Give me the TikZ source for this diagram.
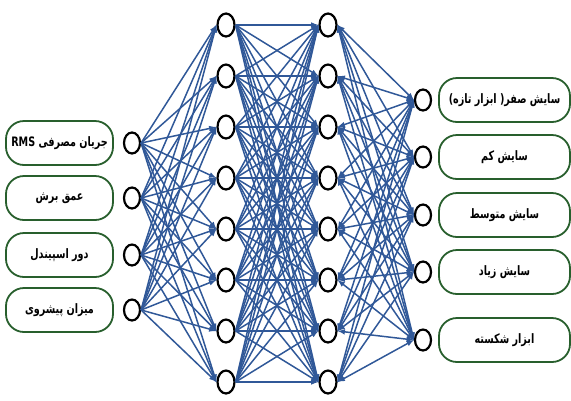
\documentclass[tikz,border=0pt]{standalone}
\usepackage{fontspec}
\usepackage{tikz}
\usetikzlibrary{positioning, shapes.geometric, arrows}
\newfontfamily\farsi[Script=Arabic, FakeStretch=0.74]{DejaVu Sans}
\TeXXeTstate=1
\definecolor{linkblue}{RGB}{48,88,152}
\definecolor{boxgreen}{RGB}{40,95,45}
\newcommand{\fa}[1]{\beginR #1\endR}
\tikzset{
    neuron/.style={draw=black, ellipse, line width=2.2pt, fill=white, minimum width=16pt, minimum height=21pt, inner sep=0pt},
    feature/.style={draw=boxgreen, rectangle, rounded corners=18pt, line width=1.8pt, align=center, minimum height=44pt, inner xsep=2pt, font=\farsi\bfseries\fontsize{13}{15}\selectfont},
    link/.style={draw=linkblue, line width=1.5pt},
}

\begin{document}
\begin{tikzpicture}[x=1pt,y=-1pt,>=latex]
    \useasboundingbox (0,0) rectangle (571,400);

    % input layer
    \node[neuron] (a1) at (132,143) {};
    \node[neuron] (a2) at (132,198) {};
    \node[neuron] (a3) at (132,255) {};
    \node[neuron] (a4) at (132,310) {};
    \node[feature, minimum width=107pt] (f1) [left=9pt of a1] {\fa{جریان مصرفی \beginL RMS\endL}};
    \node[feature, minimum width=107pt] (f2) [left=9pt of a2] {\fa{عمق برش}};
    \node[feature, minimum width=107pt] (f3) [left=9pt of a3] {\fa{دور اسپیندل}};
    \node[feature, minimum width=107pt] (f4) [left=9pt of a4] {\fa{میزان پیشروی}};

    % hidden layers
    \foreach \n in {1,...,8} {
        \node[neuron, minimum width=17pt, minimum height=23pt] (b\n) at (226,{25+51*(\n-1)}) {};
        \node[neuron, minimum width=17pt, minimum height=23pt] (c\n) at (328,{25+51*(\n-1)}) {};
    }

    % output layer
    \node[neuron] (d1) at (423,100) {};
    \node[neuron] (d2) at (423,157) {};
    \node[neuron] (d3) at (423,215) {};
    \node[neuron] (d4) at (423,272) {};
    \node[neuron] (d5) at (423,340) {};
    \node[feature, minimum width=131pt] (o1) [right=6pt of d1] {\fa{سایش صفر( ابزار تازه)}};
    \node[feature, minimum width=131pt] (o2) [right=6pt of d2] {\fa{سایش کم}};
    \node[feature, minimum width=131pt] (o3) [right=6pt of d3] {\fa{سایش متوسط}};
    \node[feature, minimum width=131pt] (o4) [right=6pt of d4] {\fa{سایش زیاد}};
    \node[feature, minimum width=131pt] (o5) [right=6pt of d5] {\fa{ابزار شکسته}};

    % links
    \foreach \i in {1,...,4}
        \foreach \j in {1,...,8}
            \draw[link, ->] (a\i.east) -- (b\j.west);
    \foreach \i in {1,...,8}
        \foreach \j in {1,...,8}
            \draw[link, ->] (b\i.east) -- (c\j.west);
    \foreach \i in {1,...,8}
        \foreach \j in {1,...,5}
            \draw[link, <->] (c\i.east) -- (d\j.west);
\end{tikzpicture}
\end{document}
